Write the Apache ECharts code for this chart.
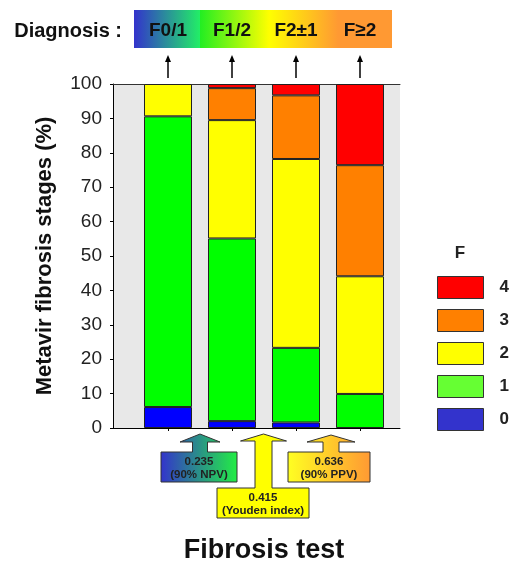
<!DOCTYPE html>
<html>
<head>
<meta charset="utf-8">
<script src="https://cdn.jsdelivr.net/npm/echarts@6/dist/echarts.min.js"></script>
<style>
  html, body { margin: 0; padding: 0; background: #fff; }
  #chart { width: 512px; height: 565px; }
</style>
</head>
<body>
<div id="chart"></div>
<script>
var FONT = '"Liberation Sans", Arial, sans-serif';

// diagnosis categories (one bar each)
var cats = ['F0/1', 'F1/2', 'F2\u00b11', 'F\u22652'];

// % of patients in each Metavir stage
var stage0 = [6.1, 2.0, 1.6, 0];
var stage1 = [84.5, 53.1, 21.7, 9.9];
var stage2 = [9.4, 34.4, 54.9, 34.2];
var stage3 = [0, 9.3, 18.5, 32.3];
var stage4 = [0, 1.2, 3.3, 23.6];

var stageNames = ['0', '1', '2', '3', '4'];
var barColors = ['#0000ff', '#00ff00', '#ffff00', '#ff8000', '#ff0000'];
var legendColors = ['#3333cc', '#66ff33', '#ffff00', '#ff8000', '#ff0000'];

// fibrosis test cut-offs
var cutoffs = ['0.235', '0.415', '0.636'];
var cutoffLabels = ['(90% NPV)', '(Youden index)', '(90% PPV)'];

var stages = [stage0, stage1, stage2, stage3, stage4];

var chart = echarts.init(document.getElementById('chart'));

var option = {
  animation: false,
  textStyle: { fontFamily: FONT },
  grid: [
    { left: 113, top: 84, width: 287, height: 344, show: true, backgroundColor: '#e8e8e8', borderWidth: 0 },
    { left: 136, top: 84, width: 256, height: 344 }
  ],
  xAxis: [
    { gridIndex: 0, type: 'value', min: 0, max: 1, position: 'bottom',
      axisLine: { show: true, lineStyle: { color: '#000', width: 1 } },
      axisTick: { show: false }, axisLabel: { show: false }, splitLine: { show: false } },
    { gridIndex: 0, type: 'value', min: 0, max: 1, position: 'top',
      axisLine: { show: true, lineStyle: { color: '#333', width: 1 } },
      axisTick: { show: false }, axisLabel: { show: false }, splitLine: { show: false } },
    { gridIndex: 1, type: 'category', data: cats,
      axisLine: { show: false },
      axisTick: { show: true, alignWithLabel: true, length: 3, lineStyle: { color: '#000' } },
      axisLabel: { show: false } }
  ],
  yAxis: [
    { gridIndex: 0, type: 'value', min: 0, max: 100, interval: 10,
      axisLine: { show: true, lineStyle: { color: '#000', width: 1 } },
      axisTick: { show: true, length: 3, lineStyle: { color: '#000' } },
      axisLabel: { fontSize: 19, color: '#222', margin: 11, fontFamily: FONT },
      splitLine: { show: false },
      name: 'Metavir fibrosis stages (%)', nameLocation: 'middle', nameRotate: 90, nameGap: 57,
      nameTextStyle: { fontSize: 22, fontWeight: 'bold', color: '#111', fontFamily: FONT } },
    { gridIndex: 1, type: 'value', min: 0, max: 100, show: false }
  ],
  legend: {
    orient: 'vertical', left: 437, top: 276, padding: 0,
    itemWidth: 46, itemHeight: 22, itemGap: 10,
    icon: 'rect',
    itemStyle: { borderColor: '#333', borderWidth: 1 },
    textStyle: { fontSize: 17, fontWeight: 'bold', color: '#222', padding: [0, 0, 0, 11], fontFamily: FONT },
    data: [4, 3, 2, 1, 0].map(function (i) {
      return { name: stageNames[i], itemStyle: { color: legendColors[i] } };
    })
  },
  series: stages.map(function (arr, i) {
    return {
      name: stageNames[i], type: 'bar', stack: 'f',
      xAxisIndex: 2, yAxisIndex: 1,
      barWidth: 48,
      itemStyle: { color: barColors[i], borderColor: '#222', borderWidth: 1 },
      data: arr.map(function (v) { return v ? v : '-'; })
    };
  })
};

chart.setOption(option);

// decorations: diagnosis band, arrows, cut-off boxes, titles
var g = [];
var cx = cats.map(function (c) { return chart.convertToPixel({ xAxisIndex: 2 }, c); });

g.push({ type: 'rect', shape: { x: 134, y: 10, width: 66, height: 38 },
  style: { fill: new echarts.graphic.LinearGradient(0, 0, 1, 0, [
    { offset: 0, color: '#3333cc' }, { offset: 1, color: '#22ee66' }]) } });
g.push({ type: 'rect', shape: { x: 200, y: 10, width: 192, height: 38 },
  style: { fill: new echarts.graphic.LinearGradient(0, 0, 1, 0, [
    { offset: 0, color: '#22ee22' }, { offset: 0.36, color: '#ffff00' },
    { offset: 0.72, color: '#ff9933' }, { offset: 1, color: '#ff9933' }]) } });
g.push({ type: 'text', x: 122, y: 31,
  style: { text: 'Diagnosis :', fill: '#111', font: 'bold 20px ' + FONT, align: 'right', verticalAlign: 'middle' } });

cx.forEach(function (x, i) {
  g.push({ type: 'text', x: x, y: 31,
    style: { text: cats[i], fill: '#111', font: 'bold 19px ' + FONT, align: 'center', verticalAlign: 'middle' } });
  g.push({ type: 'line', shape: { x1: x, y1: 60, x2: x, y2: 78 }, style: { stroke: '#000', lineWidth: 1.5 } });
  g.push({ type: 'polygon', shape: { points: [[x, 55], [x + 3, 62], [x - 3, 62]] }, style: { fill: '#000' } });
});

function arrowBox(tx, ty, hw, hy, sw, x0, x1, by0, by1, fill) {
  return { type: 'polygon',
    shape: { points: [[tx, ty], [tx + hw, hy], [tx + sw, hy], [tx + sw, by0], [x1, by0], [x1, by1],
                      [x0, by1], [x0, by0], [tx - sw, by0], [tx - sw, hy], [tx - hw, hy]] },
    style: { fill: fill, stroke: '#333', lineWidth: 1 } };
}
var boxes = [
  { tx: 200, ty: 434, hw: 20, hy: 442, sw: 7.5, x0: 161, x1: 237, by0: 452, by1: 482,
    fill: new echarts.graphic.LinearGradient(0, 0, 1, 0, [{ offset: 0, color: '#3333cc' }, { offset: 1, color: '#22ee44' }]) },
  { tx: 263.5, ty: 434, hw: 23, hy: 441, sw: 8.5, x0: 217, x1: 309, by0: 488, by1: 518, fill: '#ffff00' },
  { tx: 331, ty: 435, hw: 24, hy: 442, sw: 8, x0: 288, x1: 370, by0: 452, by1: 482,
    fill: new echarts.graphic.LinearGradient(0, 0, 1, 0, [{ offset: 0, color: '#ffff22' }, { offset: 1, color: '#ff9933' }]) }
];
boxes.forEach(function (b, i) {
  g.push(arrowBox(b.tx, b.ty, b.hw, b.hy, b.sw, b.x0, b.x1, b.by0, b.by1, b.fill));
  var mx = (b.x0 + b.x1) / 2;
  g.push({ type: 'text', x: mx, y: b.by0 + 10,
    style: { text: cutoffs[i], fill: '#222', font: 'bold 11.5px ' + FONT, align: 'center', verticalAlign: 'middle' } });
  g.push({ type: 'text', x: mx, y: b.by0 + 23,
    style: { text: cutoffLabels[i], fill: '#222', font: 'bold 11.5px ' + FONT, align: 'center', verticalAlign: 'middle' } });
});

g.push({ type: 'text', x: 460, y: 253,
  style: { text: 'F', fill: '#222', font: 'bold 17px ' + FONT, align: 'center', verticalAlign: 'middle' } });
g.push({ type: 'text', x: 264, y: 551,
  style: { text: 'Fibrosis test', fill: '#111', font: 'bold 27px ' + FONT, align: 'center', verticalAlign: 'middle' } });

chart.setOption({ graphic: { elements: g } });
</script>
</body>
</html>
